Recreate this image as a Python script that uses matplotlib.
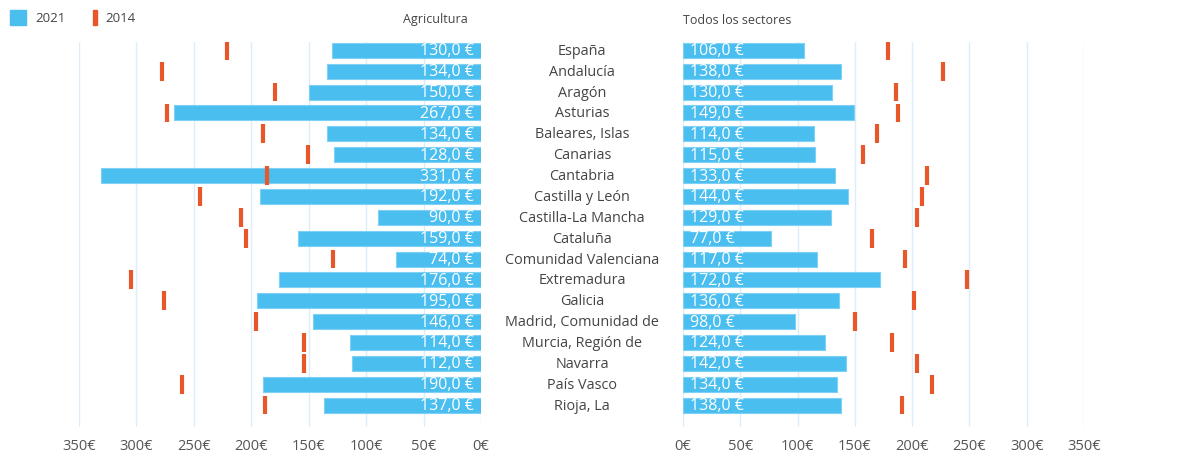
import matplotlib
matplotlib.use("Agg")
import matplotlib.pyplot as plt
from matplotlib.transforms import blended_transform_factory
from matplotlib.patches import Rectangle

regiones = ["España", "Andalucía", "Aragón", "Asturias", "Baleares, Islas", "Canarias",
            "Cantabria", "Castilla y León", "Castilla-La Mancha", "Cataluña",
            "Comunidad Valenciana", "Extremadura", "Galicia", "Madrid, Comunidad de",
            "Murcia, Región de", "Navarra", "País Vasco", "Rioja, La"]

agri_2021 = [130, 134, 150, 267, 134, 128, 331, 192, 90, 159, 74, 176, 195, 146, 114, 112, 190, 137]
agri_2014 = [221, 278, 179, 273, 190, 151, 186, 245, 209, 205, 129, 305, 276, 196, 154, 154, 260, 188]

todos_2021 = [106, 138, 130, 149, 114, 115, 133, 144, 129, 77, 117, 172, 136, 98, 124, 142, 134, 138]
todos_2014 = [179, 227, 186, 188, 169, 157, 213, 209, 204, 165, 194, 248, 202, 150, 182, 204, 217, 191]

ticks = [0, 50, 100, 150, 200, 250, 300, 350]

azul = "#4bbef0"
naranja = "#e8572a"
rejilla = "#ddeef8"
gris = "#444444"

plt.rcParams['font.family'] = ['Open Sans', 'DejaVu Sans']

fig = plt.figure(figsize=(11.8, 4.6), dpi=100)
ax1 = fig.add_axes([79 / 1180, 1 - 428 / 460, 402 / 1180, 385 / 460])
ax2 = fig.add_axes([683 / 1180, 1 - 428 / 460, 401 / 1180, 385 / 460])

y = list(range(len(regiones)))

for ax, v21, v14 in [(ax1, agri_2021, agri_2014), (ax2, todos_2021, todos_2014)]:
    ax.set_axisbelow(True)
    ax.barh(y, v21, height=0.72, color=azul, edgecolor="#7fd0f5", linewidth=0.8, zorder=2)
    ax.vlines(v14, [i - 0.45 for i in y], [i + 0.45 for i in y], color=naranja, linewidth=3, zorder=3)
    ax.set_ylim(18.05, -0.4)
    ax.set_xticks(ticks)
    ax.set_xticklabels([f"{t}€" for t in ticks], color="#555555", fontsize=10.5)
    ax.tick_params(axis="x", length=0, pad=8)
    ax.set_yticks([])
    ax.grid(axis="x", color=rejilla, linewidth=1)
    for s in ax.spines.values():
        s.set_visible(False)

ax1.set_xlim(350, 0)
ax2.set_xlim(0, 350)

for i in y:
    ax1.text(6, i, f"{agri_2021[i]},0 €", ha="right", va="center", color="white", fontsize=11.5, zorder=4)
    ax2.text(6, i, f"{todos_2021[i]},0 €", ha="left", va="center", color="white", fontsize=11.5, zorder=4)

trans = blended_transform_factory(fig.transFigure, ax1.transData)
for i, r in enumerate(regiones):
    ax1.text(582 / 1180, i, r, ha="center", va="center", color=gris, fontsize=10.4,
             transform=trans, clip_on=False)

fig.text(435 / 1180, 1 - 20 / 460, "Agricultura", ha="center", va="center", color=gris, fontsize=9)
fig.text(683 / 1180, 1 - 20 / 460, "Todos los sectores", ha="left", va="center", color=gris, fontsize=9)

# leyenda
fig.patches.append(Rectangle((10 / 1180, 1 - 26 / 460), 16 / 1180, 15 / 460,
                             transform=fig.transFigure, color=azul))
fig.text(35 / 1180, 1 - 19 / 460, "2021", ha="left", va="center", color=gris, fontsize=9.5)
fig.patches.append(Rectangle((93 / 1180, 1 - 26 / 460), 4 / 1180, 15 / 460,
                             transform=fig.transFigure, color=naranja))
fig.text(105 / 1180, 1 - 19 / 460, "2014", ha="left", va="center", color=gris, fontsize=9.5)

fig.savefig("out.png", dpi=100)
